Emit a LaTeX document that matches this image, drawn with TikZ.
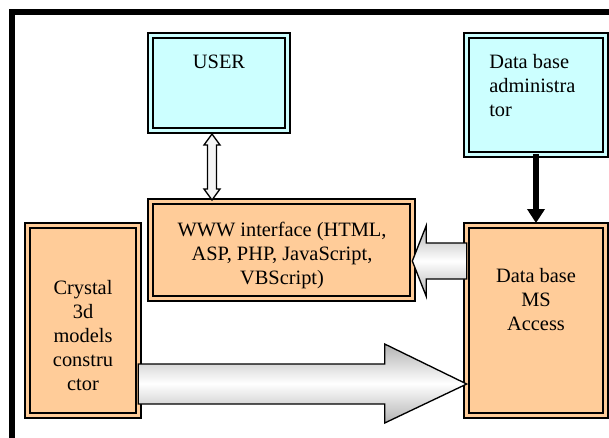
\documentclass[tikz,border=0pt]{standalone}
\usepackage{fontspec}
\setmainfont{Liberation Serif}
\usetikzlibrary{arrows.meta,calc}
\definecolor{boxcyan}{HTML}{CCFFFF}
\definecolor{boxorange}{HTML}{FFCC99}

\begin{document}
\begin{tikzpicture}[x=0.75pt, y=-0.75pt,
    box/.style={rectangle, draw, line width=1.65pt, double distance=2.25pt, outer sep=0pt, inner sep=0pt},
    userbox/.style={box, fill=boxcyan, double=boxcyan},
    sysbox/.style={box, fill=boxorange, double=boxorange},
    txt/.style={font=\fontsize{15.3}{18}\selectfont, inner sep=0pt, align=center},
    flow/.style={draw, line width=1pt, line join=miter, top color=gray!60, bottom color=gray!60, middle color=white},
    link/.style={draw, line width=1pt, fill=gray!8},
    feed/.style={line width=4.5pt, shorten >=2pt, -{Triangle[width=12.75pt, length=10.5pt]}}
]
    \useasboundingbox (0,0) rectangle (609,437);
    \clip (0,0) rectangle (609,437);

    % Frame
    \draw[line width=4.5pt] (12,450) -- (12,12) -- (620,12);

    % Boxes
    \node[userbox, minimum width=102.45pt, minimum height=70.95pt] (user) at (219,83) {};
    \node[userbox, minimum width=103.95pt, minimum height=88.95pt] (admin) at (536,95) {};
    \node[sysbox, minimum width=196.2pt, minimum height=72.45pt] (www) at (281.5,250) {};
    \node[sysbox, minimum width=82.95pt, minimum height=142.2pt] (crystal) at (83,320.5) {};
    \node[sysbox, minimum width=103.95pt, minimum height=142.2pt] (access) at (536,320.5) {};

    % Texts (anchored at the baseline of the last line)
    \node[txt, anchor=base] (usertxt) at (219,68) {USER};
    \node[txt, anchor=base west, align=left] (admintxt) at (489,116) {Data base\\administra\\tor};
    \node[txt, anchor=base] (wwwtxt) at (282,284) {WWW interface (HTML,\\ASP, PHP, JavaScript,\\VBScript)};
    \node[txt, anchor=base] (crystaltxt) at (83,390) {Crystal\\3d\\models\\constru\\ctor};
    \node[txt, anchor=base] (accesstxt) at (536,330) {Data base\\MS\\Access};

    % USER <-> WWW
    \coordinate (ulink) at ($(user.south -| 212,0)+(0,3.7)$);
    \coordinate (wlink) at ($(www.north -| 212,0)+(0,-1.7)$);
    \draw[link] (ulink) -- ++(8,11) -- ++(-3.5,0) -- ($(wlink)+(4.5,-11)$) -- ++(3.5,0) -- (wlink)
        -- ++(-8,-11) -- ++(3.5,0) -- ($(ulink)+(-4.5,11)$) -- ++(-3.5,0) -- cycle;

    % administrator -> data base
    \draw[feed] (admin.south) -- (access.north);

    % data base -> WWW
    \coordinate (wtip) at (www.east |- 0,261);
    \draw[flow] (wtip) -- ++(14,-35.5) -- ++(0,17.5) -- (access.west |- 0,243) -- (access.west |- 0,279)
        -- ($(wtip)+(14,18)$) -- ++(0,17.5) -- cycle;

    % constructor -> data base
    \coordinate (atip) at (access.west |- 0,384);
    \draw[flow] (crystal.east |- 0,364) -- ($(atip)+(-82,-20)$) -- ++(0,-20) -- (atip)
        -- ($(atip)+(-82,39)$) -- ++(0,-19) -- (crystal.east |- 0,404) -- cycle;
\end{tikzpicture}
\end{document}
